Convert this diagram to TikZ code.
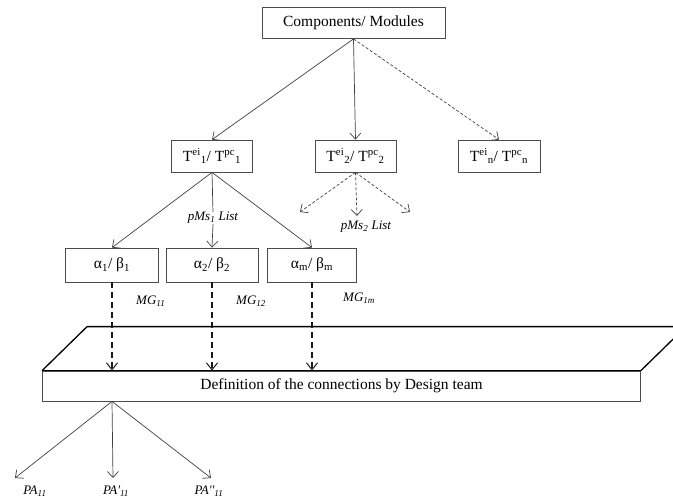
\documentclass[tikz,border=0pt]{standalone}
\usepackage{fontspec}
\setmainfont{Liberation Serif}
\usetikzlibrary{arrows.meta}

\tikzset{
    box/.style={draw=black!70, line width=.8pt, inner sep=0pt, minimum height=31pt,
        font=\fontsize{15.5}{18}\selectfont},
    link/.style={draw=black!75, line width=.7pt, -{Straight Barb[length=6pt,width=11pt]}},
    hint/.style={link, dash pattern=on 3pt off 2pt},
    flow/.style={draw=black!90, line width=1.8pt, dash pattern=on 6pt off 4pt,
        -{Straight Barb[length=7pt,width=11pt,line width=1pt]}},
    deck/.style={draw=black, line width=1.3pt},
    tag/.style={inner sep=0pt, font=\fontsize{13}{15}\selectfont\itshape},
}

\begin{document}
\begin{tikzpicture}[x=1pt, y=-1pt]
    \useasboundingbox (0, 0) rectangle (673, 500);

    \node[box, minimum width=183pt] (comp) at (353.5, 23) {Components/ Modules};

    \node[box, minimum width=81pt, minimum height=32pt] (t1) at (212, 156)
        {T\textsuperscript{ei}\textsubscript{1}/ T\textsuperscript{pc}\textsubscript{1}};
    \node[box, minimum width=81pt, minimum height=32pt] (t2) at (355.5, 156)
        {T\textsuperscript{ei}\textsubscript{2}/ T\textsuperscript{pc}\textsubscript{2}};
    \node[box, minimum width=82pt, minimum height=32pt] (tn) at (499, 156)
        {T\textsuperscript{ei}\textsubscript{n}/ T\textsuperscript{pc}\textsubscript{n}};

    \draw[link] (comp.south) -- (t1.north);
    \draw[link] (comp.south) -- (t2.north);
    \draw[hint] (comp.south) -- (tn.north);

    % modules of the first type
    \node[box, minimum width=93pt, minimum height=34pt] (a1) at (112, 265) {α\textsubscript{1}/ β\textsubscript{1}};
    \node[box, minimum width=92pt, minimum height=34pt] (a2) at (212, 265) {α\textsubscript{2}/ β\textsubscript{2}};
    \node[box, minimum width=89pt, minimum height=34pt] (am) at (312, 265) {α\textsubscript{m}/ β\textsubscript{m}};

    \node[tag] (pms1) at (213, 218) {pMs\textsubscript{1} List};
    \draw[link] (t1.south) -- (a1.north);
    \draw[draw=black!75, line width=.7pt] (t1.south) -- (pms1.north);
    \draw[link] (pms1.south) -- (a2.north);
    \draw[link] (t1.south) -- (am.north);

    \coordinate (l2) at (300, 212);
    \coordinate (m2) at (357, 216);
    \coordinate (r2) at (410, 212);
    \node[tag] (pms2) at (366, 227) {pMs\textsubscript{2} List};
    \draw[hint] (t2.south) -- (l2);
    \draw[hint] (t2.south) -- (m2);
    \draw[hint] (t2.south) -- (r2);

    \node[tag, anchor=west] (mg1) at (136, 301) {MG\textsubscript{11}};
    \node[tag, anchor=west] (mg2) at (236, 301) {MG\textsubscript{12}};
    \node[tag, anchor=west] (mgm) at (343, 298) {MG\textsubscript{1m}};

    % design platform
    \node[box, minimum width=598pt, minimum height=30pt] (def) at (341.5, 386)
        {Definition of the connections by Design team};
    \draw[deck] (def.north west) -- ++(45, -44) -- ++(640, 0);
    \draw[deck] (def.north east) -- ++(45, -44);
    \draw[deck] (def.north west) -- (def.north east);

    \draw[flow] (a1.south) -- (a1.south |- def.north);
    \draw[flow] (a2.south) -- (a2.south |- def.north);
    \draw[flow] (am.south) -- (am.south |- def.north);

    \coordinate (fork) at (a1 |- def.south);
    \coordinate (p1) at (15, 478);
    \coordinate (p2) at (113, 478);
    \coordinate (p3) at (211, 478);
    \draw[link] (fork) -- (p1);
    \draw[link] (fork) -- (p2);
    \draw[link] (fork) -- (p3);
    \node[tag] (pa1) at (35, 491) {PA\textsubscript{11}};
    \node[tag] (pa2) at (116, 491) {PA\textquotesingle\textsubscript{11}};
    \node[tag] (pa3) at (209, 491) {PA\textquotesingle\textquotesingle\textsubscript{11}};
\end{tikzpicture}
\end{document}
